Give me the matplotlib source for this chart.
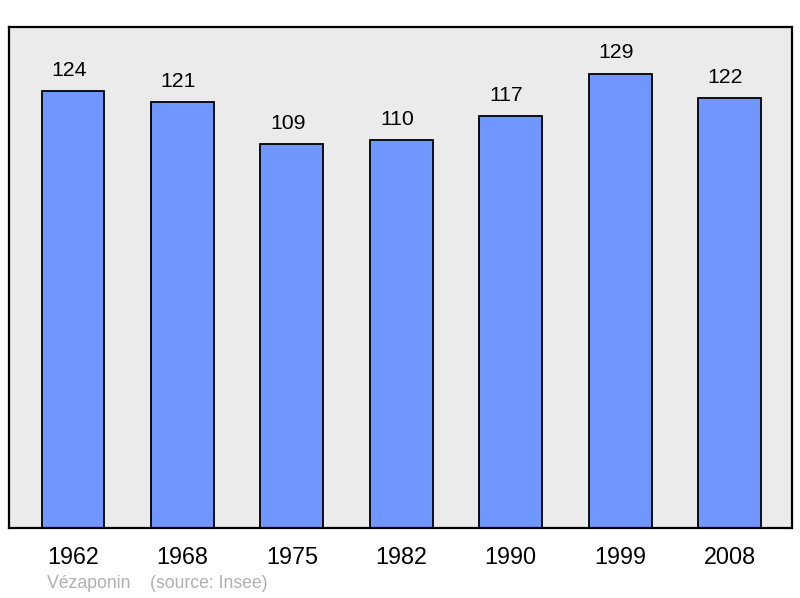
import matplotlib.pyplot as plt
import numpy as np

plt.rcParams['font.family'] = ['Liberation Sans', 'DejaVu Sans']

# Data
years = ['1962', '1968', '1975', '1982', '1990', '1999', '2008']
population = [124, 121, 109, 110, 117, 129, 122]

fig = plt.figure(figsize=(8, 5.98), dpi=100)
ax = fig.add_axes([9 / 800, 70 / 598, 783 / 800, 501 / 598])
ax.set_facecolor('#ebebeb')

x = np.arange(len(years))
bars = ax.bar(x, population, width=0.575, color='#7097ff', edgecolor='black', linewidth=1.3)

# Value labels above bars (sit a little left of the bar centre, as in the original)
for xi, v in zip(x, population):
    ax.annotate(str(v), (xi, v), xytext=(-3, 8), textcoords='offset points',
                ha='center', va='bottom', fontsize=15.3, color='black')

ax.set_xlim(-0.585, 6.57)
ax.set_ylim(0, 142.2)
ax.set_yticks([])
ax.set_xticks(x)
ax.set_xticklabels(years, fontsize=16.8)
ax.tick_params(axis='x', length=0, pad=13)
for s in ax.spines.values():
    s.set_linewidth(1.6)
    s.set_color('black')

fig.text(47 / 800, 1 - 584 / 598, 'Vézaponin    (source: Insee)', fontsize=12.7,
         color='#b0b0b0', ha='left', va='center')

fig.savefig('out.png', dpi=100)
